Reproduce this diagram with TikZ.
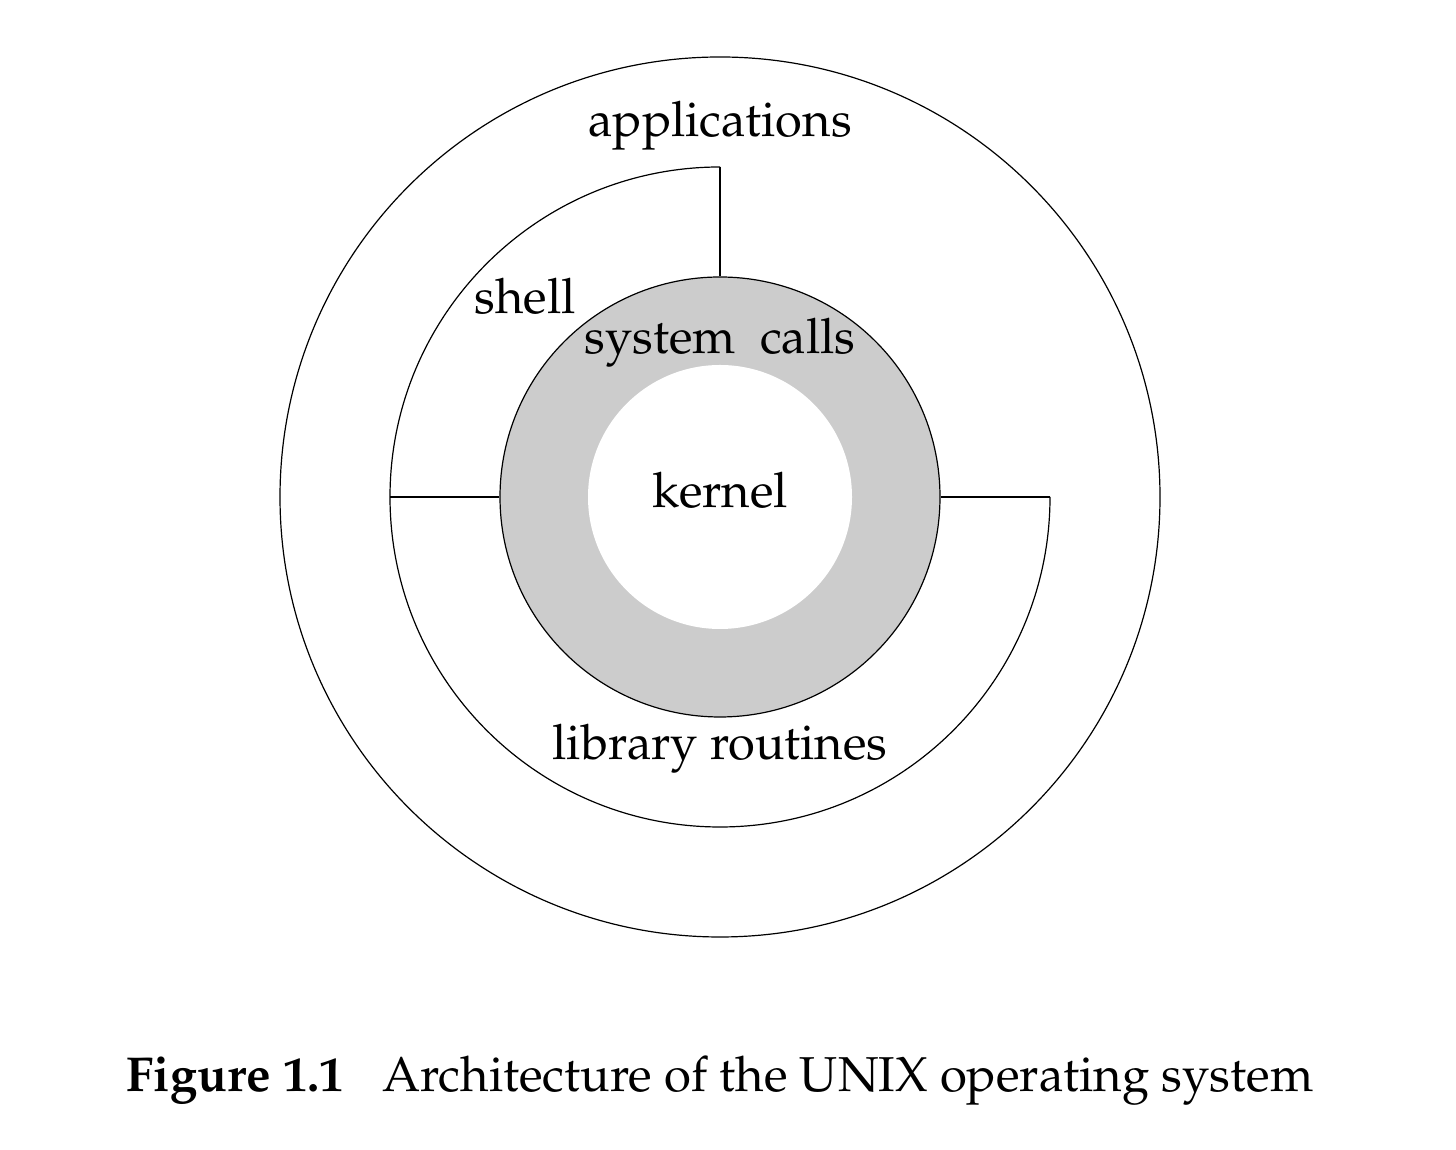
\documentclass[tikz,border=0pt]{standalone}
\usepackage[T1]{fontenc}
\usepackage{mathpazo}
\usepackage{tikz}
\usetikzlibrary{positioning,calc}
\definecolor{ringgray}{HTML}{CCCCCC}
\tikzset{
  ring/.style={circle, draw=black, line width=0.6pt, inner sep=0pt},
  core/.style={circle, fill=white, inner sep=0pt},
  wall/.style={line width=0.6pt, color=black},
  lbl/.style={font=\fontsize{24.4}{28}\selectfont, inner sep=0pt, anchor=base},
  caption/.style={font=\fontsize{24.5}{28}\selectfont, inner sep=0pt, anchor=base},
}
\begin{document}
\begin{tikzpicture}[x=0.5pt,y=0.5pt]
  \useasboundingbox (0,0) rectangle (1456,1150);
  \coordinate (ctr) at (720,653);
  % the rings, outside in
  \node[ring, minimum size=440pt] (apps) at (ctr) {};
  \node[ring, fill=ringgray, minimum size=220pt] (syscalls) at (ctr) {};
  \node[core, minimum size=132pt] (kernel) at (ctr) {};
  % shell and library routines share one arc
  \coordinate (shelltop) at ($(ctr)+(90:330)$);
  \coordinate (shellleft) at ($(ctr)+(180:330)$);
  \coordinate (libright) at ($(ctr)+(0:330)$);
  \draw[wall] (shelltop) arc[start angle=90, end angle=360, radius=330];
  \draw[wall] (shelltop) -- (syscalls.north);
  \draw[wall] (shellleft) -- (syscalls.west);
  \draw[wall] (libright) -- (syscalls.east);
  % labels
  \node[lbl] (appslbl) at (720,1013) {applications};
  \node[lbl] (shelllbl) at (525,836) {shell};
  \node[lbl] (sclbl) at (720,796) {system\ \ calls};
  \node[lbl] (kernellbl) at (720,642) {kernel};
  \node[lbl] (liblbl) at (720,390) {library routines};
  \node[caption] (cap) at (720,58) {\textbf{Figure 1.1}\hspace{19pt}Architecture of the UNIX operating system};
\end{tikzpicture}
\end{document}
